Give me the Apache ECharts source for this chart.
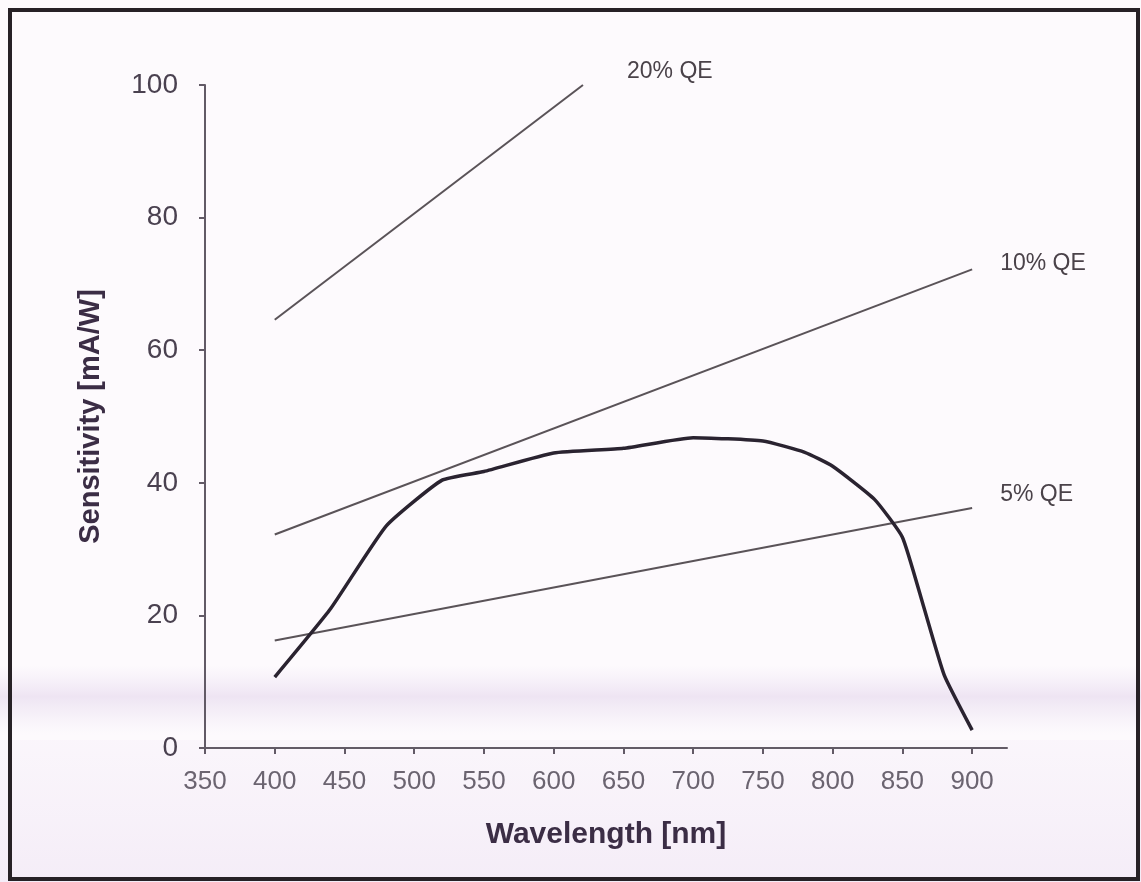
<!DOCTYPE html>
<html>
<head>
<meta charset="utf-8">
<title>Sensitivity vs wavelength</title>
<script src="https://cdn.jsdelivr.net/npm/echarts@6/dist/echarts.min.js"></script>
<style>
  html, body { margin: 0; padding: 0; background: #ffffff; }
  #chart { width: 1141px; height: 882px; }
</style>
</head>
<body>
<div id="chart"></div>
<script>
// Axis ticks
const xTicks = [350, 400, 450, 500, 550, 600, 650, 700, 750, 800, 850, 900];
const yTicks = [0, 20, 40, 60, 80, 100];

// Measured photodiode response [nm, mA/W]
const wavelength = [400, 440, 480, 520, 550, 600, 650, 700, 750, 780, 800, 830, 850, 865, 880, 900];
const sensitivity = [10.7, 21.0, 33.5, 40.4, 41.7, 44.5, 45.2, 46.8, 46.3, 44.6, 42.5, 37.5, 31.8, 21.5, 11.0, 2.7];

// Constant quantum-efficiency reference lines (end points)
const qe20x = [400, 621];
const qe20y = [64.6, 100];
const qe10x = [400, 900];
const qe10y = [32.2, 72.2];
const qe5x = [400, 900];
const qe5y = [16.2, 36.2];

const FONT = '"Liberation Sans", Arial, sans-serif';
const pair = (xs, ys) => xs.map((x, i) => [x, ys[i]]);

function qeSeries(name, xs, ys, offset) {
  return {
    name: name,
    type: 'line',
    data: pair(xs, ys),
    symbol: 'none',
    silent: true,
    lineStyle: { color: '#5a5358', width: 2 },
    endLabel: {
      show: true,
      formatter: name,
      offset: offset,
      color: '#4a4249',
      fontFamily: FONT,
      fontSize: 23
    },
    z: 2
  };
}

const chart = echarts.init(document.getElementById('chart'), null, { renderer: 'canvas' });

chart.setOption({
  backgroundColor: '#fdfafd',
  animation: false,
  grid: { left: 205, right: 134, top: 85, bottom: 134, containLabel: false },
  graphic: [
    {
      type: 'rect',
      z: -10,
      silent: true,
      shape: { x: 0, y: 665, width: 1141, height: 70 },
      style: {
        fill: new echarts.graphic.LinearGradient(0, 0, 0, 1, [
          { offset: 0, color: 'rgba(235,222,242,0)' },
          { offset: 0.45, color: 'rgba(228,214,236,0.6)' },
          { offset: 0.7, color: 'rgba(234,224,240,0.4)' },
          { offset: 1, color: 'rgba(240,232,245,0)' }
        ])
      }
    },
    {
      type: 'rect',
      z: -10,
      silent: true,
      shape: { x: 0, y: 740, width: 1141, height: 142 },
      style: {
        fill: new echarts.graphic.LinearGradient(0, 0, 0, 1, [
          { offset: 0, color: 'rgba(244,236,247,0.3)' },
          { offset: 1, color: 'rgba(242,233,246,0.8)' }
        ])
      }
    },
    {
      type: 'rect',
      z: 100,
      silent: true,
      shape: { x: 10, y: 10, width: 1128, height: 869 },
      style: { fill: 'none', stroke: '#272126', lineWidth: 4 }
    }
  ],
  xAxis: {
    type: 'value',
    min: 350,
    max: 925,
    interval: 50,
    name: 'Wavelength [nm]',
    nameLocation: 'middle',
    nameGap: 72,
    nameTextStyle: { fontFamily: FONT, fontWeight: 'bold', fontSize: 30, color: '#3b2d45' },
    axisLine: { show: true, lineStyle: { color: '#625a66', width: 2 } },
    axisTick: { show: true, length: 6, customValues: xTicks, lineStyle: { color: '#625a66', width: 2 } },
    axisLabel: { customValues: xTicks, margin: 21, fontFamily: FONT, fontSize: 26, color: '#6b6470' },
    splitLine: { show: false }
  },
  yAxis: {
    type: 'value',
    min: 0,
    max: 100,
    interval: 20,
    name: 'Sensitivity [mA/W]',
    nameLocation: 'middle',
    nameRotate: 90,
    nameGap: 100,
    nameTextStyle: { fontFamily: FONT, fontWeight: 'bold', fontSize: 29, color: '#3b2d45' },
    axisLine: { show: true, lineStyle: { color: '#625a66', width: 2 } },
    axisTick: { show: true, length: 6, customValues: yTicks, lineStyle: { color: '#625a66', width: 2 } },
    axisLabel: { customValues: yTicks, margin: 27, fontFamily: FONT, fontSize: 28, color: '#4a4150' },
    splitLine: { show: false }
  },
  series: [
    qeSeries('20% QE', qe20x, qe20y, [36, -13]),
    qeSeries('10% QE', qe10x, qe10y, [20, -6]),
    qeSeries('5% QE', qe5x, qe5y, [20, -13]),
    {
      name: 'Sensitivity',
      type: 'line',
      data: pair(wavelength, sensitivity),
      symbol: 'none',
      smooth: 0.15,
      silent: true,
      lineStyle: { color: '#2a2330', width: 3.5 },
      z: 3
    }
  ]
});
</script>
</body>
</html>
